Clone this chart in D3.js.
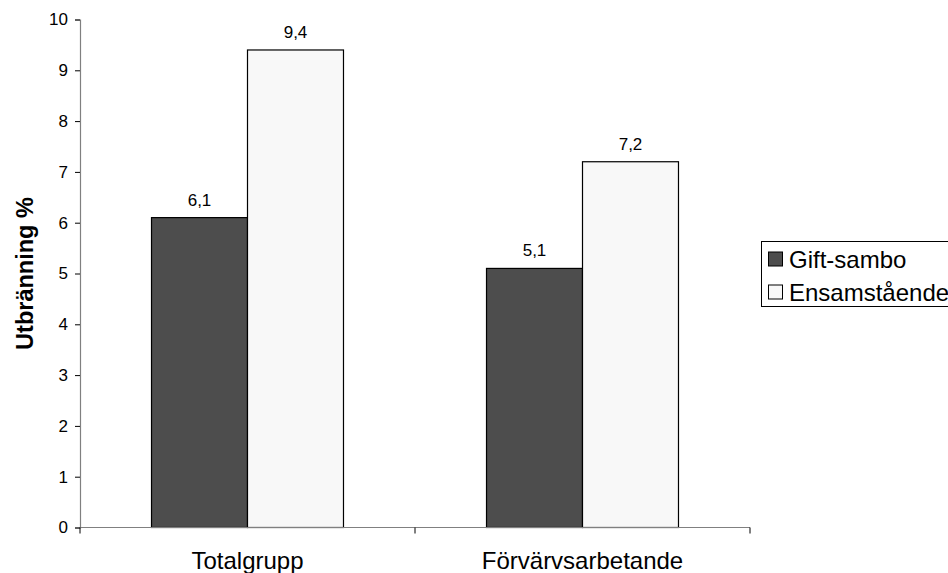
<!DOCTYPE html>
<html><head><meta charset="utf-8">
<script src="https://cdn.jsdelivr.net/npm/d3@7"></script>
<style>body{margin:0;background:#fff}svg{display:block;font-family:"Liberation Sans",Arial,sans-serif}</style>
</head><body><svg id="c" width="948" height="573"></svg>
<script>
const categories = ["Totalgrupp", "Förvärvsarbetande"];
const seriesNames = ["Gift-sambo", "Ensamstående"];
const giftSambo = [6.1, 5.1];
const ensamstaende = [9.4, 7.2];
const yTicks = [0,1,2,3,4,5,6,7,8,9,10];
const colors = ["#4d4d4d", "#f8f8f8"];

const FONT = "Liberation Sans, Arial, sans-serif";
const svg = d3.select("#c");
const x0 = 80, x1 = 750, yTop = 19.5, yBot = 527.5;
const y = d3.scaleLinear().domain([0,10]).range([yBot, yTop]);
const xb = d3.scaleBand().domain(categories).range([x0, x1]).paddingInner(0).paddingOuter(0);
const xs = d3.scaleBand().domain(seriesNames).range([0, xb.bandwidth()]).paddingInner(0).paddingOuter(0.745);
const series = [giftSambo, ensamstaende];

// bars
categories.forEach((c, i) => {
  seriesNames.forEach((s, j) => {
    const v = series[j][i];
    svg.append("rect")
      .attr("x", xb(c) + xs(s)).attr("y", y(v))
      .attr("width", xs.bandwidth()).attr("height", y(0) - y(v))
      .attr("fill", colors[j]).attr("stroke", "#000").attr("stroke-width", 1.2);
    svg.append("text")
      .attr("x", xb(c) + xs(s) + xs.bandwidth()/2).attr("y", y(v) - 12)
      .attr("text-anchor", "middle").attr("font-size", 17).attr("font-family", FONT).attr("fill", "#000")
      .text(String(v).replace(".", ","));
  });
});

// y axis
const yAxis = d3.axisLeft(y).tickValues(yTicks).tickSize(5).tickPadding(7);
const gy = svg.append("g").attr("transform", `translate(${x0},0)`).call(yAxis);
gy.attr("font-size", 17).attr("font-family", FONT);
gy.select(".domain").attr("stroke", "#808080").attr("stroke-width", 1.2);
gy.selectAll(".tick line").attr("stroke", "#000");
gy.selectAll(".tick text").attr("fill", "#000");

// x axis
const gx = svg.append("g").attr("transform", `translate(0,${yBot})`);
gx.append("line").attr("x1", x0).attr("x2", x1).attr("y1", 0).attr("y2", 0).attr("stroke", "#808080").attr("stroke-width", 1.2);
const xTickPos = [x0].concat(categories.map(c => xb(c) + xb.bandwidth()));
xTickPos.forEach(p => gx.append("line").attr("x1", p).attr("x2", p).attr("y1", 0).attr("y2", 6).attr("stroke", "#000"));
categories.forEach(c => gx.append("text").attr("x", xb(c) + xb.bandwidth()/2).attr("y", 41)
  .attr("text-anchor", "middle").attr("font-size", 24).attr("font-family", FONT).attr("fill", "#000").text(c));

// y title
svg.append("text").attr("transform", `translate(33,${(yTop+yBot)/2}) rotate(-90)`)
  .attr("text-anchor", "middle").attr("font-size", 23.5).attr("font-weight", "bold").attr("font-family", FONT).text("Utbränning %");

// legend
const lg = svg.append("g");
lg.append("rect").attr("x", 761.5).attr("y", 241.5).attr("width", 200).attr("height", 65)
  .attr("fill", "#fff").attr("stroke", "#000").attr("stroke-width", 1);
seriesNames.forEach((s, j) => {
  const cy = 259 + j * 33;
  lg.append("rect").attr("x", 768.5).attr("y", cy - 7).attr("width", 14).attr("height", 14)
    .attr("fill", colors[j]).attr("stroke", "#000").attr("stroke-width", 1);
  lg.append("text").attr("x", 789).attr("y", cy + 8.5).attr("font-size", 24).attr("font-family", FONT).attr("fill", "#000").text(s);
});
</script></body></html>
